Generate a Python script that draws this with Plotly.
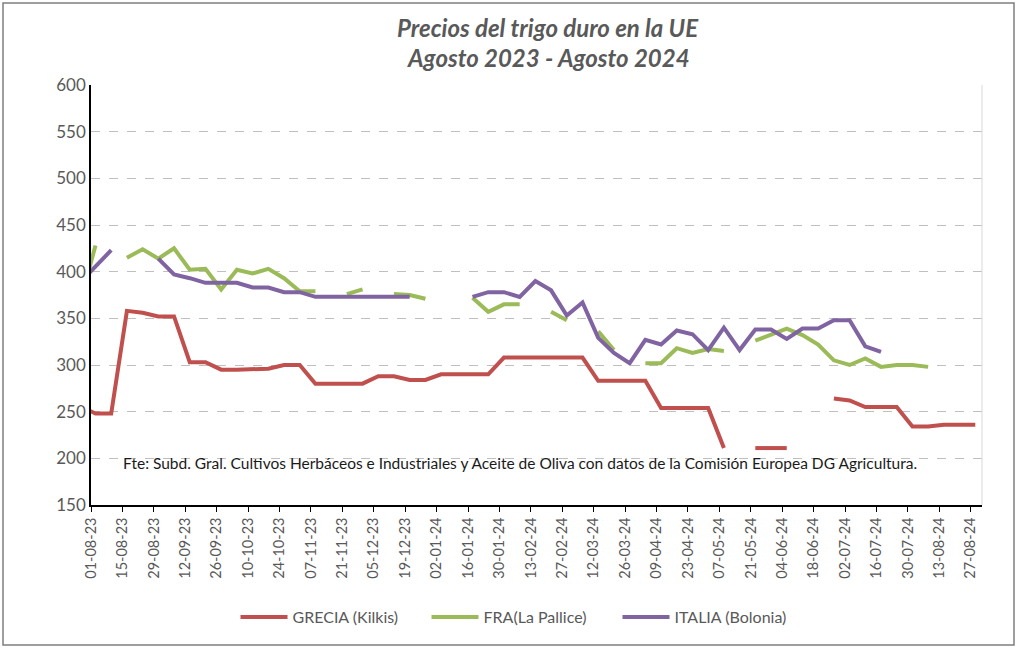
import pandas as pd
import plotly.graph_objects as go

# Weekly observation dates (Thursdays)
dates = pd.date_range("2023-07-27", periods=58, freq="7D")

grecia = [256, 248, 248, 358, 356, 352, 352, 303, 303, 295,
          295, 296, 296, 300, 300, 280, 280, 280, 280, 288,
          288, 284, 284, 290, 290, 290, 290, 308, 308, 308,
          308, 308, 308, 283, 283, 283, 283, 254, 254, 254,
          254, 211, None, 211, 211, 211, None, None, 264, 262,
          255, 255, 255, 234, 234, 236, 236, 236]

francia = [366, 428, None, 415, 424, 414, 425, 402, 403, 381,
           402, 398, 403, 393, 379, 379, None, 376, 381, None,
           376, 375, 371, None, None, 372, 357, 365, 365, None,
           357, 348, None, 336, 316, None, 302, 302, 318, 313,
           317, 315, None, 326, 333, 339, 332, 322, 305, 300,
           307, 298, 300, 300, 298, None, None, None]

italia = [388, 405, 423, None, None, 414, 397, 393, 388, 388,
          388, 383, 383, 378, 378, 373, 373, 373, 373, 373,
          373, 373, None, None, None, 373, 378, 378, 373, 390,
          380, 353, 367, 329, 313, 302, 327, 322, 337, 333,
          316, 340, 316, 338, 338, 328, 339, 339, 348, 348,
          320, 314, None, None, None, None, None, None]

series_names = ["GRECIA (Kilkis)", "FRA(La Pallice)", "ITALIA (Bolonia)"]
series_colors = ["#C0504D", "#9BBB59", "#8064A2"]

tick_dates = pd.date_range("2023-08-01", "2024-08-27", freq="14D")

title_lines = ["Precios del trigo duro en la UE", "Agosto 2023 - Agosto 2024"]
source_text = ("Fte: Subd. Gral. Cultivos Herbáceos e Industriales y Aceite de Oliva "
               "con datos de la Comisión Europea DG Agricultura.")

FONT = "Lato"
GRAY = "#595959"

fig = go.Figure()
for name, vals, col in zip(series_names, [grecia, francia, italia], series_colors):
    fig.add_trace(go.Scatter(
        x=dates, y=vals, name=name, mode="lines",
        line=dict(color=col, width=4),
        connectgaps=False,
    ))

L, R, T, B = 91, 38, 85, 143
W, H = 1020, 648
pw, ph = W - L - R, H - T - B

def px_x(p):
    return (p - L) / pw

def px_y(p):
    return (H - B - p) / ph

fig.update_layout(
    width=W, height=H,
    margin=dict(l=L, r=R, t=T, b=B),
    paper_bgcolor="white", plot_bgcolor="white",
    font=dict(family=FONT, color=GRAY),
    showlegend=True,
    legend=dict(orientation="h", x=px_x(522), xanchor="center",
                y=px_y(617), yanchor="middle",
                font=dict(size=16, color=GRAY, family=FONT),
                itemwidth=47, entrywidth=129, entrywidthmode="pixels",
                traceorder="normal"),
    xaxis=dict(
        type="date",
        range=["2023-08-01", "2024-09-01"],
        tickvals=list(tick_dates),
        tickformat="%d-%m-%y",
        tickangle=-90,
        tickfont=dict(size=14.5, color=GRAY, family=FONT),
        showgrid=False,
        showline=True, linecolor="black", linewidth=1.5,
        ticks="outside", ticklen=5, tickcolor="black",
        zeroline=False,
    ),
    yaxis=dict(
        range=[150, 600],
        tickvals=[150, 200, 250, 300, 350, 400, 450, 500, 550, 600],
        tickfont=dict(size=17, color=GRAY, family=FONT),
        showgrid=True, gridcolor="#BFBFBF", griddash="dash", gridwidth=1,
        showline=True, linecolor="black", linewidth=1.5,
        ticks="", zeroline=False,
    ),
)

# chart outer border
fig.add_shape(type="rect", xref="paper", yref="paper",
              x0=px_x(3), x1=px_x(1014), y0=px_y(645), y1=px_y(3),
              line=dict(color="#7F7F7F", width=1.5), layer="below")
# right border of plot area
fig.add_shape(type="line", xref="paper", yref="paper",
              x0=1, x1=1, y0=0, y1=1,
              line=dict(color="#D9D9D9", width=1))

fig.add_annotation(xref="paper", yref="paper", x=px_x(548), y=px_y(27),
                   text="<b><i>%s</i></b>" % title_lines[0], showarrow=False,
                   font=dict(size=24, color=GRAY, family=FONT),
                   xanchor="center", yanchor="middle")
fig.add_annotation(xref="paper", yref="paper", x=px_x(548), y=px_y(57),
                   text="<b><i>%s</i></b>" % title_lines[1], showarrow=False,
                   font=dict(size=24, color=GRAY, family=FONT),
                   xanchor="center", yanchor="middle")
fig.add_annotation(xref="paper", yref="paper", x=px_x(520), y=px_y(463),
                   text=source_text, showarrow=False,
                   font=dict(size=15.5, color="#1A1A1A", family=FONT),
                   xanchor="center", yanchor="middle")

fig.write_html("out.html", config={"displayModeBar": False},
               post_script="document.body.style.margin='0';")
